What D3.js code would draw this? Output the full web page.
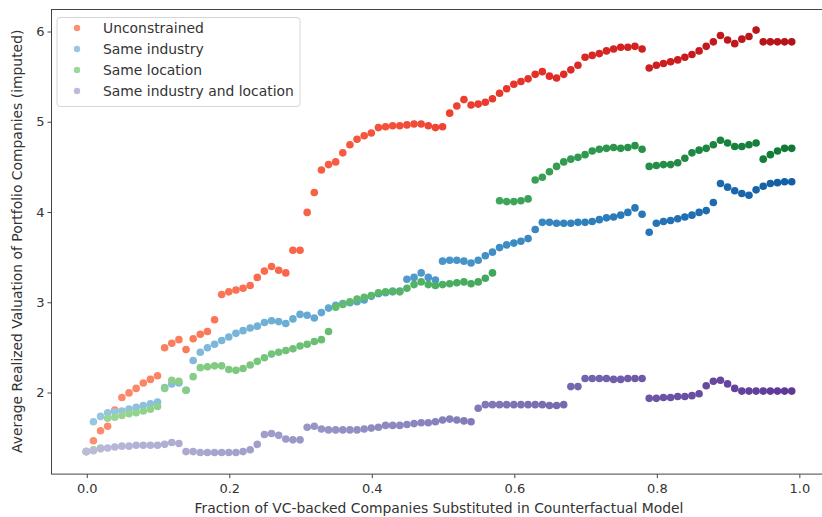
<!DOCTYPE html>
<html>
<head>
<meta charset="utf-8">
<script src="https://cdn.jsdelivr.net/npm/d3@7"></script>
<style>
  body { margin: 0; background: #fff; }
  svg { display: block; font-family: "DejaVu Sans", sans-serif; }
</style>
</head>
<body>
<svg id="chart" width="822" height="517"></svg>
<script>
// Fraction of VC-backed companies substituted (shared x grid for every series)
const fractions = [
  0.00, 0.01, 0.02, 0.03, 0.04, 0.05, 0.06, 0.07, 0.08, 0.09,
  0.10, 0.11, 0.12, 0.13, 0.14, 0.15, 0.16, 0.17, 0.18, 0.19,
  0.20, 0.21, 0.22, 0.23, 0.24, 0.25, 0.26, 0.27, 0.28, 0.29,
  0.30, 0.31, 0.32, 0.33, 0.34, 0.35, 0.36, 0.37, 0.38, 0.39,
  0.40, 0.41, 0.42, 0.43, 0.44, 0.45, 0.46, 0.47, 0.48, 0.49,
  0.50, 0.51, 0.52, 0.53, 0.54, 0.55, 0.56, 0.57, 0.58, 0.59,
  0.60, 0.61, 0.62, 0.63, 0.64, 0.65, 0.66, 0.67, 0.68, 0.69,
  0.70, 0.71, 0.72, 0.73, 0.74, 0.75, 0.76, 0.77, 0.78, 0.79,
  0.80, 0.81, 0.82, 0.83, 0.84, 0.85, 0.86, 0.87, 0.88, 0.89,
  0.90, 0.91, 0.92, 0.93, 0.94, 0.95, 0.96, 0.97, 0.98, 0.99
];

// Average realized valuation of portfolio companies (imputed)
const unconstrained = [
  1.34, 1.46, 1.57, 1.62, 1.80, 1.94, 1.99, 2.04, 2.10, 2.14,
  2.18, 2.49, 2.54, 2.58, 2.47, 2.59, 2.64, 2.67, 2.80, 3.08,
  3.11, 3.13, 3.15, 3.18, 3.27, 3.34, 3.39, 3.35, 3.32, 3.57,
  3.57, 3.99, 4.21, 4.46, 4.52, 4.55, 4.65, 4.74, 4.80, 4.84,
  4.87, 4.93, 4.94, 4.95, 4.95, 4.96, 4.97, 4.97, 4.95, 4.93,
  4.94, 5.09, 5.17, 5.24, 5.18, 5.19, 5.21, 5.25, 5.31, 5.36,
  5.41, 5.44, 5.47, 5.52, 5.55, 5.50, 5.48, 5.52, 5.57, 5.62,
  5.71, 5.73, 5.75, 5.78, 5.80, 5.82, 5.82, 5.83, 5.80, 5.59,
  5.62, 5.64, 5.66, 5.68, 5.71, 5.74, 5.78, 5.83, 5.88, 5.95,
  5.90, 5.86, 5.91, 5.94, 6.01, 5.88, 5.88, 5.88, 5.88, 5.88
];

const sameIndustry = [
  1.34, 1.67, 1.73, 1.77, 1.78, 1.79, 1.81, 1.83, 1.85, 1.87,
  1.89, 2.05, 2.09, 2.10, 2.02, 2.35, 2.44, 2.49, 2.53, 2.57,
  2.61, 2.65, 2.68, 2.71, 2.73, 2.77, 2.79, 2.78, 2.76, 2.81,
  2.86, 2.85, 2.82, 2.88, 2.93, 2.96, 2.98, 2.99, 3.00, 3.02,
  3.06, 3.09, 3.10, 3.11, 3.12, 3.25, 3.27, 3.32, 3.27, 3.24,
  3.45, 3.46, 3.46, 3.45, 3.43, 3.46, 3.51, 3.55, 3.60, 3.63,
  3.65, 3.67, 3.70, 3.80, 3.88, 3.88, 3.87, 3.87, 3.87, 3.88,
  3.88, 3.89, 3.91, 3.93, 3.94, 3.96, 3.99, 4.04, 3.97, 3.77,
  3.87, 3.89, 3.90, 3.92, 3.94, 3.96, 3.99, 4.01, 4.10, 4.31,
  4.27, 4.23, 4.20, 4.18, 4.24, 4.28, 4.31, 4.32, 4.33, 4.33
];

const sameLocation = [
  1.34, 1.36, 1.38, 1.71, 1.72, 1.74, 1.76, 1.77, 1.79, 1.81,
  1.84, 2.04, 2.13, 2.12, 2.02, 2.17, 2.27, 2.28, 2.29, 2.29,
  2.25, 2.24, 2.26, 2.30, 2.34, 2.38, 2.42, 2.44, 2.46, 2.48,
  2.51, 2.53, 2.56, 2.58, 2.67, 2.94, 2.97, 3.00, 3.03, 3.05,
  3.07, 3.10, 3.11, 3.12, 3.11, 3.15, 3.19, 3.22, 3.19, 3.18,
  3.19, 3.20, 3.21, 3.22, 3.20, 3.22, 3.26, 3.32, 4.12, 4.11,
  4.11, 4.12, 4.14, 4.35, 4.38, 4.44, 4.50, 4.55, 4.58, 4.60,
  4.63, 4.67, 4.69, 4.70, 4.71, 4.70, 4.71, 4.73, 4.69, 4.50,
  4.51, 4.52, 4.52, 4.54, 4.59, 4.65, 4.68, 4.70, 4.74, 4.79,
  4.76, 4.72, 4.72, 4.74, 4.76, 4.58, 4.63, 4.67, 4.70, 4.70
];

const sameIndustryAndLocation = [
  1.34, 1.35, 1.37, 1.38, 1.39, 1.40, 1.40, 1.41, 1.41, 1.41,
  1.41, 1.42, 1.44, 1.43, 1.34, 1.34, 1.33, 1.33, 1.33, 1.33,
  1.33, 1.33, 1.34, 1.36, 1.42, 1.53, 1.54, 1.52, 1.48, 1.47,
  1.47, 1.61, 1.62, 1.59, 1.58, 1.58, 1.58, 1.58, 1.58, 1.59,
  1.60, 1.61, 1.63, 1.63, 1.63, 1.64, 1.65, 1.66, 1.66, 1.67,
  1.69, 1.70, 1.69, 1.68, 1.67, 1.82, 1.86, 1.86, 1.86, 1.86,
  1.86, 1.86, 1.86, 1.86, 1.86, 1.85, 1.85, 1.86, 2.06, 2.06,
  2.15, 2.15, 2.15, 2.15, 2.14, 2.14, 2.15, 2.15, 2.15, 1.93,
  1.93, 1.94, 1.94, 1.95, 1.95, 1.96, 1.98, 2.07, 2.12, 2.13,
  2.09, 2.04, 2.01, 2.01, 2.01, 2.01, 2.01, 2.01, 2.01, 2.01
];

const seriesNames = ["Unconstrained", "Same industry", "Same location", "Same industry and location"];
const xTicks = [0.0, 0.2, 0.4, 0.6, 0.8, 1.0];
const yTicks = [2, 3, 4, 5, 6];

// Each series is shaded along x with its own sequential ramp
const series = [
  { name: seriesNames[0], values: unconstrained, ramp: d3.interpolateReds },
  { name: seriesNames[1], values: sameIndustry, ramp: d3.interpolateBlues },
  { name: seriesNames[2], values: sameLocation, ramp: d3.interpolateGreens },
  { name: seriesNames[3], values: sameIndustryAndLocation, ramp: d3.interpolatePurples }
];
const shade = (ramp, f) => ramp(0.38 + 0.45 * f);

const svg = d3.select("#chart");
const plot = { left: 51, right: 827, top: 9, bottom: 473.6 };

const x = d3.scaleLinear().domain([-0.0495, 1.0395]).range([plot.left, plot.right]);
const y = d3.scaleLinear().domain([1.096, 6.244]).range([plot.bottom, plot.top]);

// Scatter points
series.forEach(s => {
  svg.append("g")
    .selectAll("circle")
    .data(fractions.map((f, i) => ({ f, v: s.values[i] })))
    .join("circle")
      .attr("cx", d => x(d.f))
      .attr("cy", d => y(d.v))
      .attr("r", 3.8)
      .attr("fill", d => shade(s.ramp, d.f));
});

// Axes frame
svg.append("rect")
  .attr("x", plot.left + 0.5)
  .attr("y", plot.top + 0.5)
  .attr("width", plot.right - plot.left)
  .attr("height", plot.bottom - plot.top)
  .attr("fill", "none")
  .attr("stroke", "#444")
  .attr("stroke-width", 1);

const xAxis = svg.append("g")
  .attr("transform", `translate(0.5,${plot.bottom + 0.5})`)
  .call(d3.axisBottom(x).tickValues(xTicks).tickFormat(d3.format(".1f")).tickSize(4).tickPadding(6));
const yAxis = svg.append("g")
  .attr("transform", `translate(${plot.left + 0.5},0.5)`)
  .call(d3.axisLeft(y).tickValues(yTicks).tickFormat(d3.format("d")).tickSize(4).tickPadding(3));

[xAxis, yAxis].forEach(g => {
  g.select(".domain").remove();
  g.selectAll(".tick line").attr("stroke", "#444");
  g.selectAll(".tick text")
    .attr("fill", "#333")
    .style("font-family", "DejaVu Sans, sans-serif")
    .style("font-size", "13px");
});

// Axis titles
svg.append("text")
  .attr("x", (plot.left + plot.right) / 2)
  .attr("y", 512.5)
  .attr("text-anchor", "middle")
  .attr("fill", "#333")
  .style("font-size", "13.9px")
  .text("Fraction of VC-backed Companies Substituted in Counterfactual Model");

svg.append("text")
  .attr("transform", `translate(22,${(plot.top + plot.bottom) / 2}) rotate(-90)`)
  .attr("text-anchor", "middle")
  .attr("fill", "#333")
  .style("font-size", "13.9px")
  .text("Average Realized Valuation of Portfolio Companies (imputed)");

// Legend
const legend = svg.append("g").attr("transform", "translate(57,17.5)");
legend.append("rect")
  .attr("width", 243)
  .attr("height", 89)
  .attr("rx", 3)
  .attr("fill", "#fff")
  .attr("fill-opacity", 0.8)
  .attr("stroke", "#d6d6d6");
series.forEach((s, i) => {
  const row = legend.append("g").attr("transform", `translate(0,${10.5 + i * 21})`);
  row.append("circle")
    .attr("cx", 20)
    .attr("cy", 0)
    .attr("r", 3.2)
    .attr("fill", shade(s.ramp, 0));
  row.append("text")
    .attr("x", 46)
    .attr("y", 0)
    .attr("dy", "0.35em")
    .attr("fill", "#333")
    .style("font-size", "13.9px")
    .text(s.name);
});
</script>
</body>
</html>
